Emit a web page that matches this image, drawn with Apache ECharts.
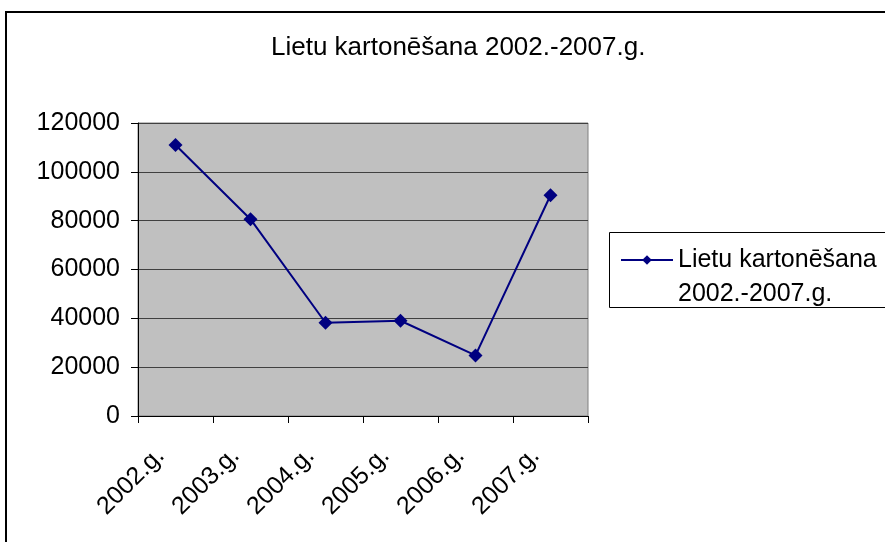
<!DOCTYPE html>
<html>
<head>
<meta charset="utf-8">
<script src="https://cdn.jsdelivr.net/npm/echarts@6/dist/echarts.min.js"></script>
<style>
	html, body { margin: 0; padding: 0; background: #fff; }
	#chart { width: 885px; height: 542px; }
</style>
</head>
<body>
<div id="chart"></div>
<script>
// chart values
let titleText = "Lietu kartonēšana 2002.-2007.g.";
let seriesName = "Lietu kartonēšana 2002.-2007.g.";
let categories = ["2002.g.", "2003.g.", "2004.g.", "2005.g.", "2006.g.", "2007.g."];
let values = [111000, 80600, 38200, 39000, 24800, 90400];
let yTicks = [0, 20000, 40000, 60000, 80000, 100000, 120000];

function kartonesanaChart() {
	let dom = document.getElementById("chart");
	let myChart = echarts.init(dom, null, { renderer: "canvas" });

	let font = "Liberation Sans, Arial, sans-serif";

	let option = {
		animation: false,
		textStyle: { fontFamily: font },
		title: {
			text: titleText,
			left: 266,
			top: 30,
			textStyle: { fontFamily: font, fontSize: 26, fontWeight: "normal", color: "#000" },
		},
		legend: {
			data: [seriesName],
			left: 615,
			top: 204,
			itemWidth: 52,
			itemHeight: 12,
			formatter: function (name) {
				// empty first line keeps the icon next to the first visible line
				return "\n" + name.replace(" 2002", "\n2002");
			},
			textStyle: {
				fontFamily: font,
				fontSize: 25,
				lineHeight: 34,
				color: "#000",
			},
		},
		grid: {
			left: 138,
			top: 123,
			right: 297,
			bottom: 126,
			show: true,
			backgroundColor: "#c0c0c0",
			borderColor: "#808080",
			borderWidth: 1,
		},
		xAxis: {
			type: "category",
			data: categories,
			boundaryGap: true,
			axisLine: { lineStyle: { color: "#000", width: 1 } },
			axisTick: { show: true, length: 7, lineStyle: { color: "#000" } },
			axisLabel: {
				rotate: 45,
				margin: 21,
				padding: [0, 21, 0, 0],
				fontFamily: font,
				fontSize: 25,
				color: "#000",
			},
		},
		yAxis: {
			type: "value",
			min: yTicks[0],
			max: yTicks[yTicks.length - 1],
			interval: yTicks[1] - yTicks[0],
			axisLine: { show: true, lineStyle: { color: "#000", width: 1 } },
			axisTick: { show: true, length: 7, lineStyle: { color: "#000" } },
			axisLabel: {
				margin: 18,
				fontFamily: font,
				fontSize: 25,
				color: "#000",
				formatter: function (value) {
					return String(value); // no thousands separator
				},
			},
			splitLine: { show: true, lineStyle: { color: "#404040", width: 1 } },
		},
		series: [
			{
				name: seriesName,
				type: "line",
				data: values,
				symbol: "diamond",
				symbolSize: 14,
				itemStyle: { color: "#000080" },
				lineStyle: { color: "#000080", width: 2 },
			},
		],
		graphic: [
			{
				// outer chart frame
				type: "rect",
				shape: { x: 6, y: 12, width: 900, height: 600 },
				style: { fill: "none", stroke: "#000", lineWidth: 2 },
				silent: true,
			},
			{
				// legend frame
				type: "rect",
				shape: { x: 609.5, y: 232.5, width: 300, height: 75 },
				style: { fill: "none", stroke: "#000", lineWidth: 1 },
				silent: true,
			},
		],
	};

	myChart.setOption(option);
	window.addEventListener("resize", myChart.resize);
}

(function init() {
	kartonesanaChart();
})();
</script>
</body>
</html>
